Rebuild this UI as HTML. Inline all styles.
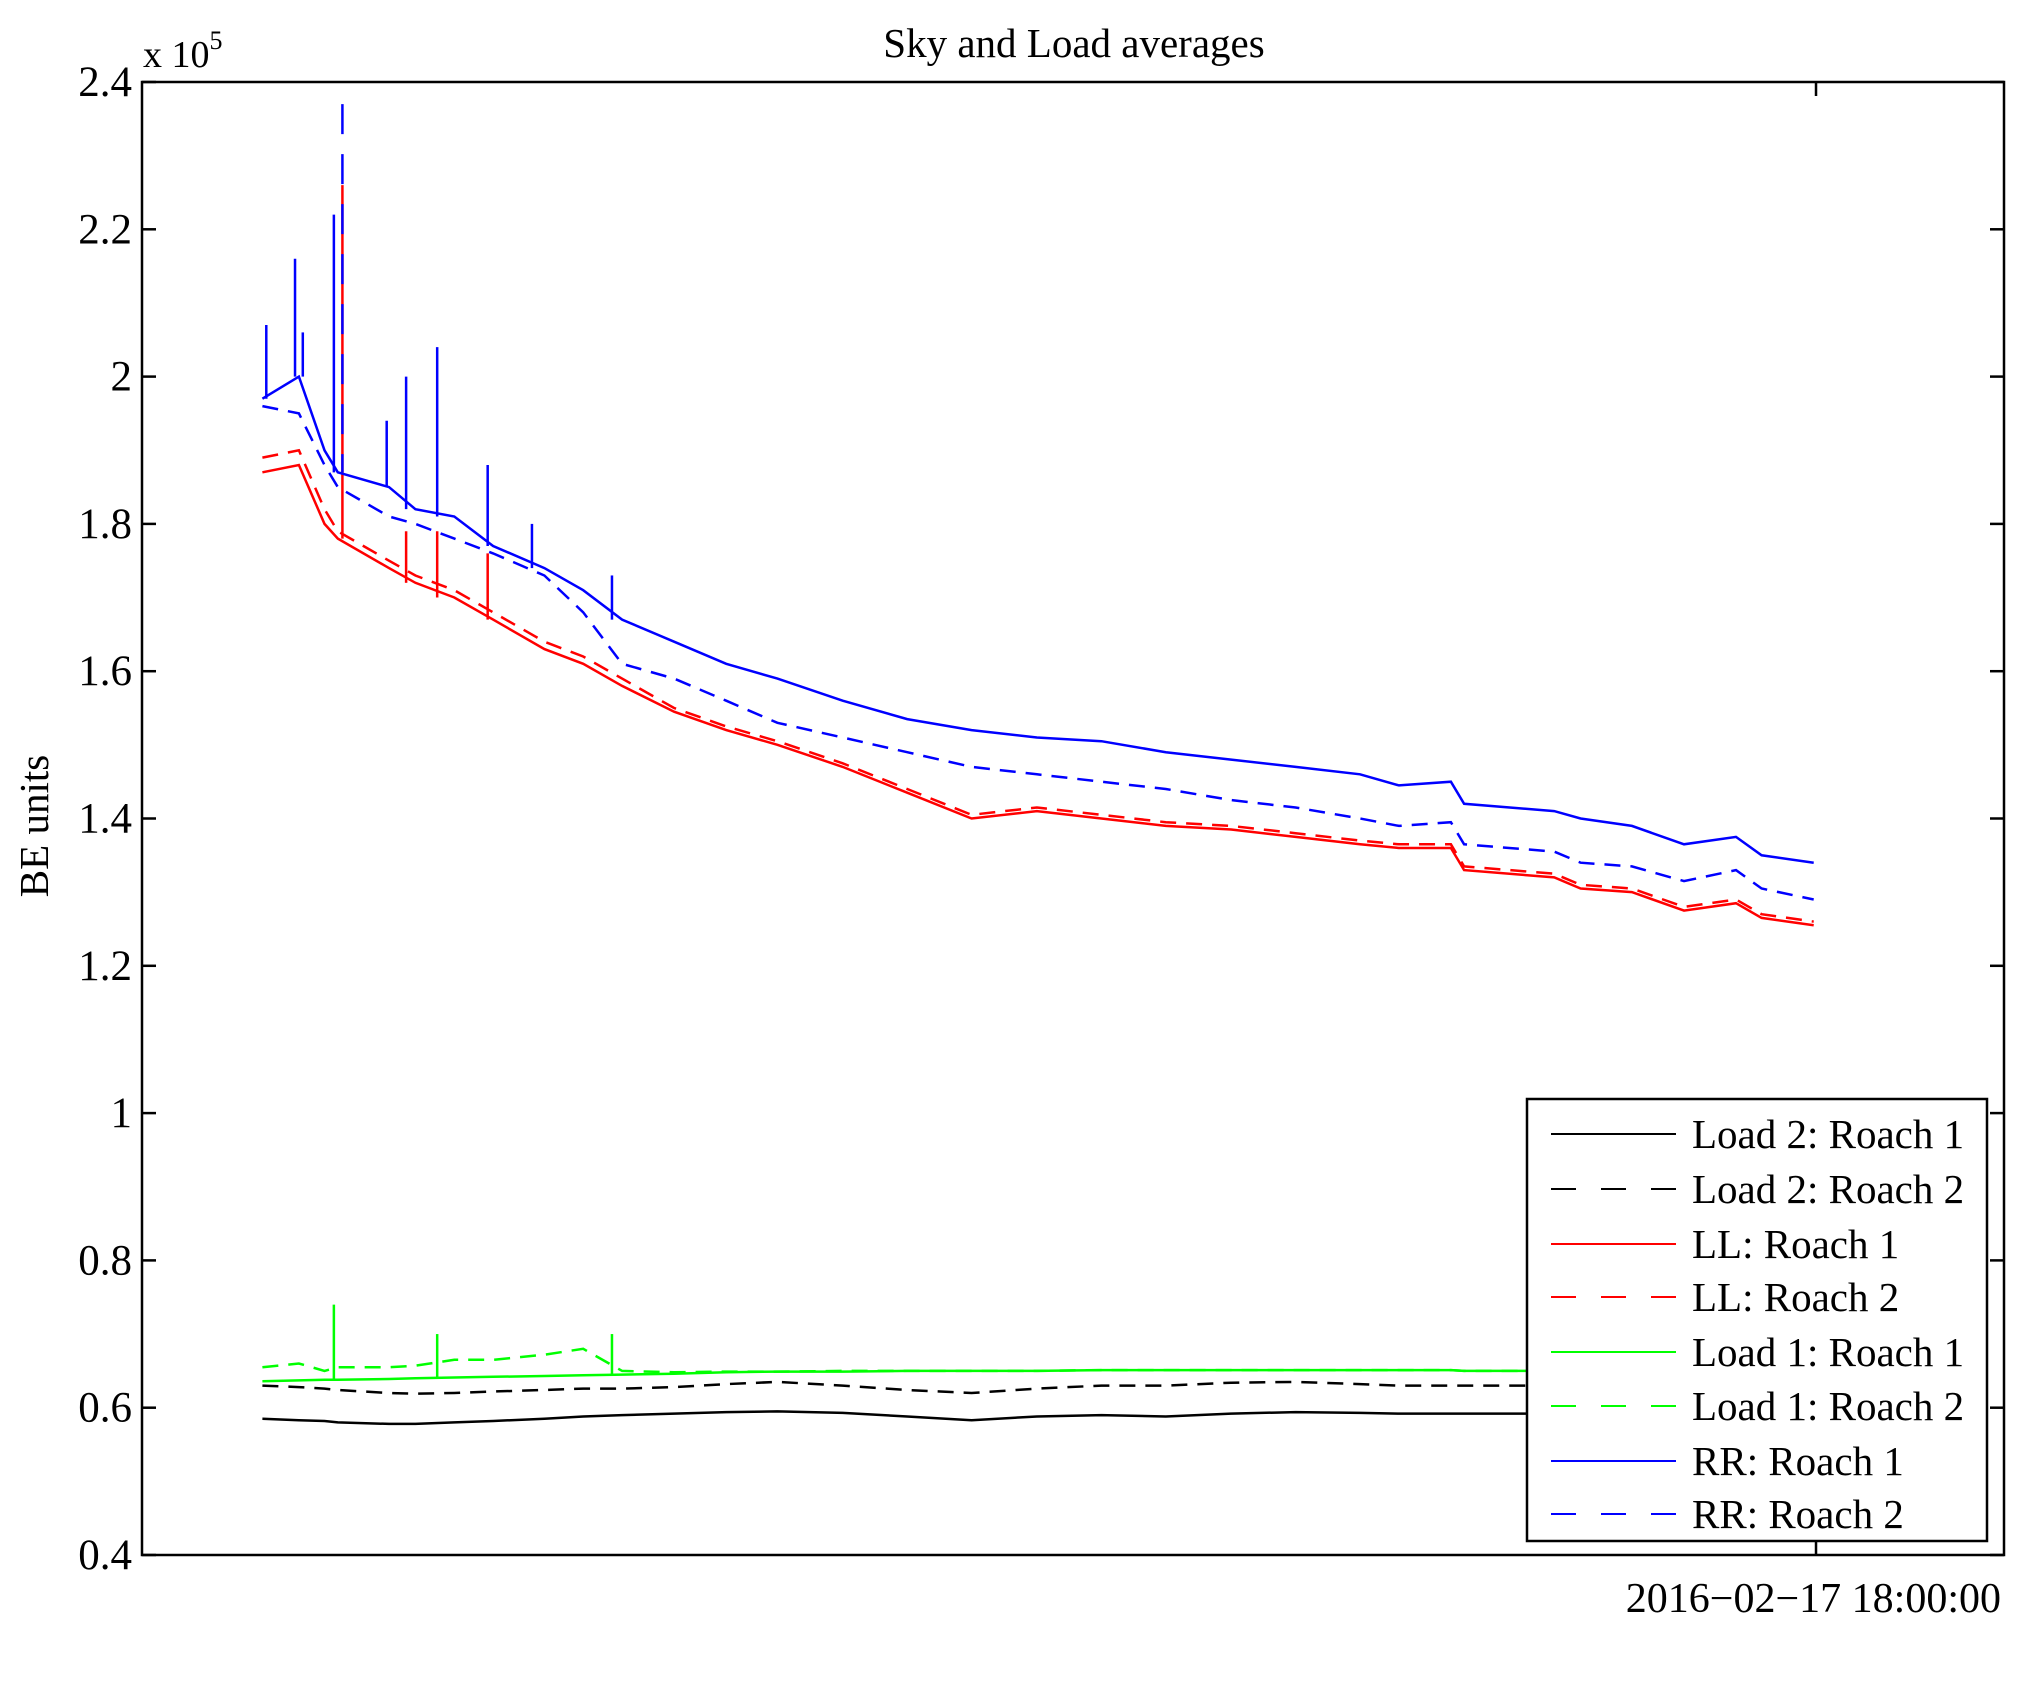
<!DOCTYPE html>
<html><head><meta charset="utf-8"><style>
html,body{margin:0;padding:0;background:#fff;}
svg text{font-family:"Liberation Serif",serif;fill:#000;}
</style></head><body>
<svg id="chart" width="2029" height="1683" viewBox="0 0 2029 1683" xmlns="http://www.w3.org/2000/svg">
<rect x="0" y="0" width="2029" height="1683" fill="#fff"/>
<text x="1074" y="57" font-size="41" text-anchor="middle">Sky and Load averages</text>
<text x="0" y="0" font-size="41" text-anchor="middle" transform="translate(48,826) rotate(-90)">BE units</text>
<text x="143" y="67" font-size="38">x 10<tspan font-size="26" dy="-18">5</tspan></text>
<text x="2001" y="1612" font-size="42" text-anchor="end">2016−02−17 18:00:00</text>
<g id="ticks"></g>
<g id="series"></g>
<rect x="142" y="82" width="1862" height="1473" fill="none" stroke="#000" stroke-width="2.5"/>
<g id="legend"></g>
</svg>
<script>
// time in hours relative to 2016-02-17 18:00:00
const T = [-20,-19.53,-19.2,-19.03,-18.37,-18.03,-17.53,-17.03,-16.37,-15.87,-15.37,-14.7,-14.03,-13.37,-12.53,-11.7,-10.87,-10.03,-9.2,-8.37,-7.53,-6.7,-5.87,-5.37,-4.7,-4.53,-3.37,-3.03,-2.37,-1.7,-1.03,-0.7,-0.03];
const rr1 = [1.97,2.0,1.9,1.87,1.85,1.82,1.81,1.77,1.74,1.71,1.67,1.64,1.61,1.59,1.56,1.535,1.52,1.51,1.505,1.49,1.48,1.47,1.46,1.445,1.45,1.42,1.41,1.40,1.39,1.365,1.375,1.35,1.34];
const rr2 = [1.96,1.95,1.88,1.85,1.81,1.80,1.78,1.76,1.73,1.68,1.61,1.59,1.56,1.53,1.51,1.49,1.47,1.46,1.45,1.44,1.425,1.415,1.40,1.39,1.395,1.365,1.355,1.34,1.335,1.315,1.33,1.305,1.29];
const ll1 = [1.87,1.88,1.80,1.78,1.74,1.72,1.70,1.67,1.63,1.61,1.58,1.545,1.52,1.50,1.47,1.435,1.40,1.41,1.40,1.39,1.385,1.375,1.365,1.36,1.36,1.33,1.32,1.305,1.30,1.275,1.285,1.265,1.255];
const ll2 = [1.89,1.90,1.82,1.79,1.75,1.73,1.71,1.68,1.64,1.62,1.59,1.55,1.525,1.505,1.475,1.44,1.405,1.415,1.405,1.395,1.39,1.38,1.37,1.365,1.365,1.335,1.325,1.31,1.305,1.28,1.29,1.27,1.26];
const ld1r1 = [0.636,0.637,0.638,0.638,0.639,0.640,0.641,0.642,0.643,0.644,0.645,0.646,0.648,0.649,0.649,0.650,0.650,0.650,0.651,0.651,0.651,0.651,0.651,0.651,0.651,0.650,0.650,0.650,0.650,0.650,0.650,0.650,0.650];
const ld1r2 = [0.655,0.66,0.65,0.655,0.655,0.657,0.665,0.665,0.672,0.68,0.65,0.648,0.649,0.649,0.650,0.650,0.650,0.650,0.651,0.651,0.651,0.651,0.651,0.651,0.651,0.650,0.650,0.650,0.650,0.650,0.650,0.650,0.650];
const ld2r1 = [0.585,0.583,0.582,0.580,0.578,0.578,0.580,0.582,0.585,0.588,0.590,0.592,0.594,0.595,0.593,0.588,0.583,0.588,0.590,0.588,0.592,0.594,0.593,0.592,0.592,0.592,0.592,0.592,0.592,0.592,0.592,0.592,0.592];
const ld2r2 = [0.630,0.628,0.626,0.624,0.620,0.619,0.620,0.622,0.624,0.626,0.626,0.628,0.632,0.635,0.630,0.624,0.620,0.626,0.630,0.630,0.634,0.635,0.632,0.630,0.630,0.630,0.630,0.630,0.630,0.630,0.630,0.630,0.630];
// spikes: time, top value
const blueSpikeT = [-19.95,-19.58,-19.48,-19.08,-18.4,-18.15,-17.75,-17.1,-16.53,-15.5];
const blueSpikeV = [2.07,2.16,2.06,2.22,1.94,2.0,2.04,1.88,1.80,1.73];
const blueDashSpikeT = [-18.97];
const blueDashSpikeV = [2.37];
const redSpikeT = [-18.97,-18.15,-17.75,-17.1];
const redSpikeV = [2.26,1.79,1.79,1.76];
const greenSpikeT = [-19.08,-17.75,-15.5];
const greenSpikeV = [0.74,0.70,0.70];
const yTicks = [0.4,0.6,0.8,1,1.2,1.4,1.6,1.8,2,2.2,2.4];
const yTickLabels = ["0.4","0.6","0.8","1","1.2","1.4","1.6","1.8","2","2.2","2.4"];
const xTicks = [0];
const legendLabels = ["Load 2: Roach 1","Load 2: Roach 2","LL: Roach 1","LL: Roach 2","Load 1: Roach 1","Load 1: Roach 2","RR: Roach 1","RR: Roach 2"];

const NS="http://www.w3.org/2000/svg";
const L=142,R=2004,TOP=82,B=1555;
const X0=-21.55,X1=2.42;
function xs(t){return L+(t-X0)/(X1-X0)*(R-L);}
function ys(v){return TOP+(2.4-v)/2.0*(B-TOP);}
function mk(tag,attrs,parent){const e=document.createElementNS(NS,tag);for(const k in attrs)e.setAttribute(k,attrs[k]);parent.appendChild(e);return e;}

const tg=document.getElementById('ticks');
yTicks.forEach((v,i)=>{
  const y=ys(v);
  const a=mk('line',{x1:L,x2:L+14,y1:y,y2:y,stroke:'#000','stroke-width':2.5},tg);
  
  
  const b=mk('line',{x1:R-14,x2:R,y1:y,y2:y,stroke:'#000','stroke-width':2.5},tg);
  
  
  const t=mk('text',{x:L-10,y:y+14,'font-size':43,'text-anchor':'end'},tg);
  t.textContent=yTickLabels[i];
  
  
});
xTicks.forEach(v=>{
  const x=xs(v);
  const a=mk('line',{x1:x,x2:x,y1:B-14,y2:B,stroke:'#000','stroke-width':2.5},tg);
  
  
  const b=mk('line',{x1:x,x2:x,y1:TOP,y2:TOP+14,stroke:'#000','stroke-width':2.5},tg);
  
  
});

const sg=document.getElementById('series');
function line(vals,color,dash,name){
  const d=vals.map((v,i)=>(i?'L':'M')+xs(T[i]).toFixed(1)+' '+ys(v).toFixed(1)).join(' ');
  const p=mk('path',{d:d,fill:'none',stroke:color,'stroke-width':2.5},sg);
  if(dash)p.setAttribute('stroke-dasharray','16 10');
  
  
}
function spikes(ts,vs,base,color,dash,name){
  ts.forEach((t,i)=>{
    let bi=0;for(let k=0;k<T.length;k++){if(Math.abs(T[k]-t)<Math.abs(T[bi]-t))bi=k;}
    const x=xs(t);
    const s=mk('line',{x1:x,x2:x,y1:ys(vs[i]),y2:ys(base[bi]),stroke:color,'stroke-width':2.5},sg);
    if(dash)s.setAttribute('stroke-dasharray','30 20');
    
    
  });
}
line(ld2r1,'#000',false,'series-load2-roach1');
line(ld2r2,'#000',true,'series-load2-roach2');
line(ld1r1,'#00ff00',false,'series-load1-roach1');
line(ld1r2,'#00ff00',true,'series-load1-roach2');
spikes(greenSpikeT,greenSpikeV,ld1r1,'#00ff00',false,'spike-load1');
line(ll2,'#ff0000',true,'series-ll-roach2');
line(ll1,'#ff0000',false,'series-ll-roach1');
spikes(redSpikeT,redSpikeV,ll1,'#ff0000',false,'spike-ll');
line(rr2,'#0000ff',true,'series-rr-roach2');
line(rr1,'#0000ff',false,'series-rr-roach1');
spikes(blueSpikeT,blueSpikeV,rr1,'#0000ff',false,'spike-rr');
spikes(blueDashSpikeT,blueDashSpikeV,rr1,'#0000ff',true,'spike-rr-roach2');

const lg=document.getElementById('legend');
const lb=mk('rect',{x:1527,y:1099,width:460,height:442,fill:'#fff',stroke:'#000','stroke-width':2.5},lg);


const lc=['#000','#000','#ff0000','#ff0000','#00ff00','#00ff00','#0000ff','#0000ff'];
const rowY=[1134,1189,1244,1297,1352,1406,1461,1514];
legendLabels.forEach((lab,i)=>{
  const y=rowY[i];
  const g=mk('g',{},lg);
  
  
  const l=mk('line',{x1:1551,x2:1676,y1:y,y2:y,stroke:lc[i],'stroke-width':2},g);
  if(i%2===1)l.setAttribute('stroke-dasharray','25 25');
  
  
  const t=mk('text',{x:1692,y:y+14,'font-size':41},g);
  t.textContent=lab;
  
  
});
</script>
</body></html>
